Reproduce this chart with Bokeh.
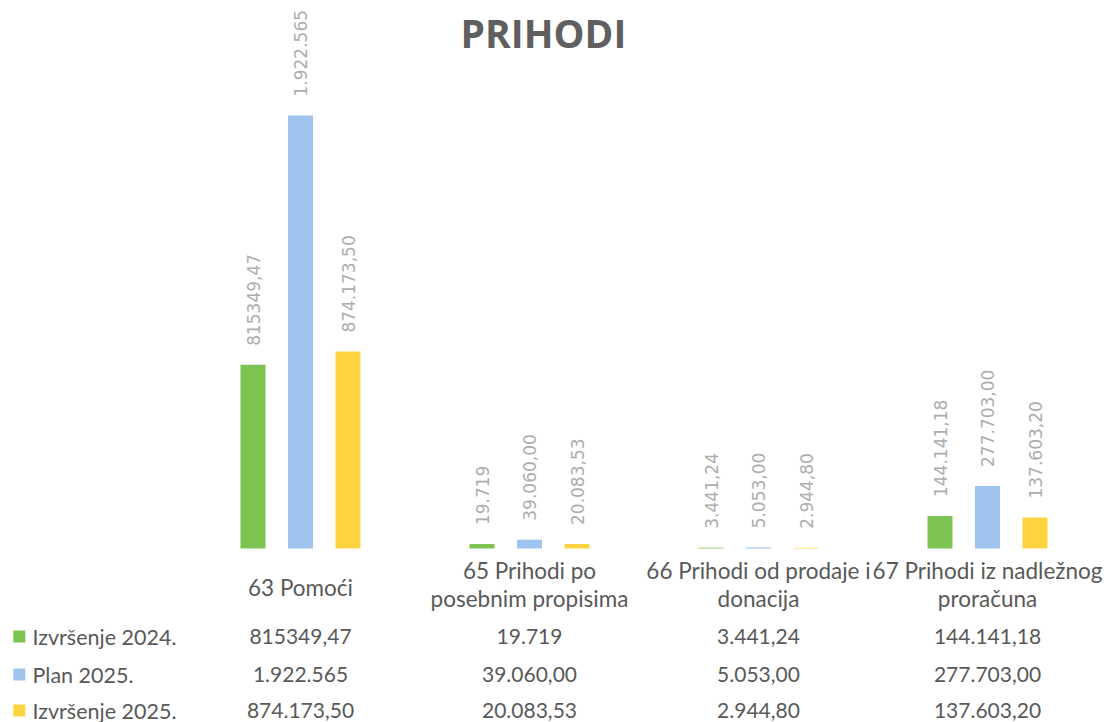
import math
from bokeh.plotting import figure
from bokeh.models import Range1d
from bokeh.core.properties import value
from bokeh.embed import file_html
from bokeh.resources import INLINE

# ---------------- data ----------------
title_text = "PRIHODI"
category_line1 = ["63 Pomoći", "65 Prihodi po", "66 Prihodi od prodaje i", "67 Prihodi iz nadležnog"]
category_line2 = ["", "posebnim propisima", "donacija", "proračuna"]
series_names = ["Izvršenje 2024.", "Plan 2025.", "Izvršenje 2025."]

izvrsenje_2024 = [815349.47, 19719.00, 3441.24, 144141.18]
plan_2025 = [1922565.00, 39060.00, 5053.00, 277703.00]
izvrsenje_2025 = [874173.50, 20083.53, 2944.80, 137603.20]

izvrsenje_2024_labels = ["815349,47", "19.719", "3.441,24", "144.141,18"]
plan_2025_labels = ["1.922.565", "39.060,00", "5.053,00", "277.703,00"]
izvrsenje_2025_labels = ["874.173,50", "20.083,53", "2.944,80", "137.603,20"]

series_values = [izvrsenje_2024, plan_2025, izvrsenje_2025]
series_labels = [izvrsenje_2024_labels, plan_2025_labels, izvrsenje_2025_labels]
colors = ["#7dc352", "#9fc5ee", "#fdd43f"]

# ---------------- layout (canvas pixels) ----------------
W, H = 1104, 722
CAT0_PX, CAT_STEP = 300, 229
BASE_PX, TOP_PX = 548, 115
SCALE = (BASE_PX - TOP_PX) / max(plan_2025)   # px per unit
BAR_OFFSET = 47.5 / CAT_STEP
BAR_WIDTH = 25 / CAT_STEP
LABEL_GAP_PX = 19
ROW_PX = [636, 674, 710]

def x_at(px):
    return (px - CAT0_PX) / CAT_STEP

def y_at(py):
    return (BASE_PX - py) / SCALE

p = figure(width=W, height=H, output_backend="svg", toolbar_location=None,
           x_range=Range1d(x_at(0), x_at(W)), y_range=Range1d(y_at(H), y_at(0)),
           min_border=0, min_border_left=0, min_border_right=0,
           min_border_top=0, min_border_bottom=0)
p.xaxis.visible = False
p.yaxis.visible = False
p.grid.visible = False
p.outline_line_color = None
p.background_fill_color = "white"
p.border_fill_color = "white"

n = len(category_line1)
cat_x = list(range(n))

# bars + rotated data labels
for k, (vals, labs, col) in enumerate(zip(series_values, series_labels, colors)):
    xs = [i + (k - 1) * BAR_OFFSET for i in cat_x]
    p.vbar(x=xs, top=vals, bottom=0, width=BAR_WIDTH, fill_color=col, line_color=None)
    p.text(x=xs, y=[v + LABEL_GAP_PX / SCALE for v in vals], text=labs,
           angle=math.pi / 2, text_align="left", text_baseline="middle",
           text_font=value("DejaVu Sans"), text_font_size="17px", text_color="#adadad")

# title
p.text(x=[x_at(543)], y=[y_at(32)], text=[title_text], text_align="center",
       text_baseline="middle", text_font=value("Open Sans"), text_font_style="bold",
       text_font_size="39px", text_color="#5f5f5f")

# category labels
single_x = [i for i in cat_x if category_line2[i] == ""]
single_t = [category_line1[i] for i in cat_x if category_line2[i] == ""]
double_x = [i for i in cat_x if category_line2[i] != ""]
cat_style = dict(text_align="center", text_baseline="middle", text_font=value("Lato"),
                 text_font_size="22.5px", text_color="#595959")
p.text(x=single_x, y=[y_at(587)] * len(single_x), text=single_t, **cat_style)
p.text(x=double_x, y=[y_at(570)] * len(double_x),
       text=[category_line1[i] for i in double_x], **cat_style)
p.text(x=double_x, y=[y_at(598)] * len(double_x),
       text=[category_line2[i] for i in double_x], **cat_style)

# data table with legend keys
for k, (name, labs, col) in enumerate(zip(series_names, series_labels, colors)):
    ry = y_at(ROW_PX[k])
    p.scatter(x=[x_at(18.8)], y=[ry], marker="square", size=12,
              fill_color=col, line_color=None)
    p.text(x=[x_at(32)], y=[ry], text=[name], text_align="left", text_baseline="middle",
           text_font=value("Lato"), text_font_size="21.5px", text_color="#595959")
    p.text(x=cat_x, y=[ry] * n, text=labs, text_align="center", text_baseline="middle",
           text_font=value("Lato"), text_font_size="21px", text_color="#595959")

open("out.html", "w").write(file_html(p, INLINE))
